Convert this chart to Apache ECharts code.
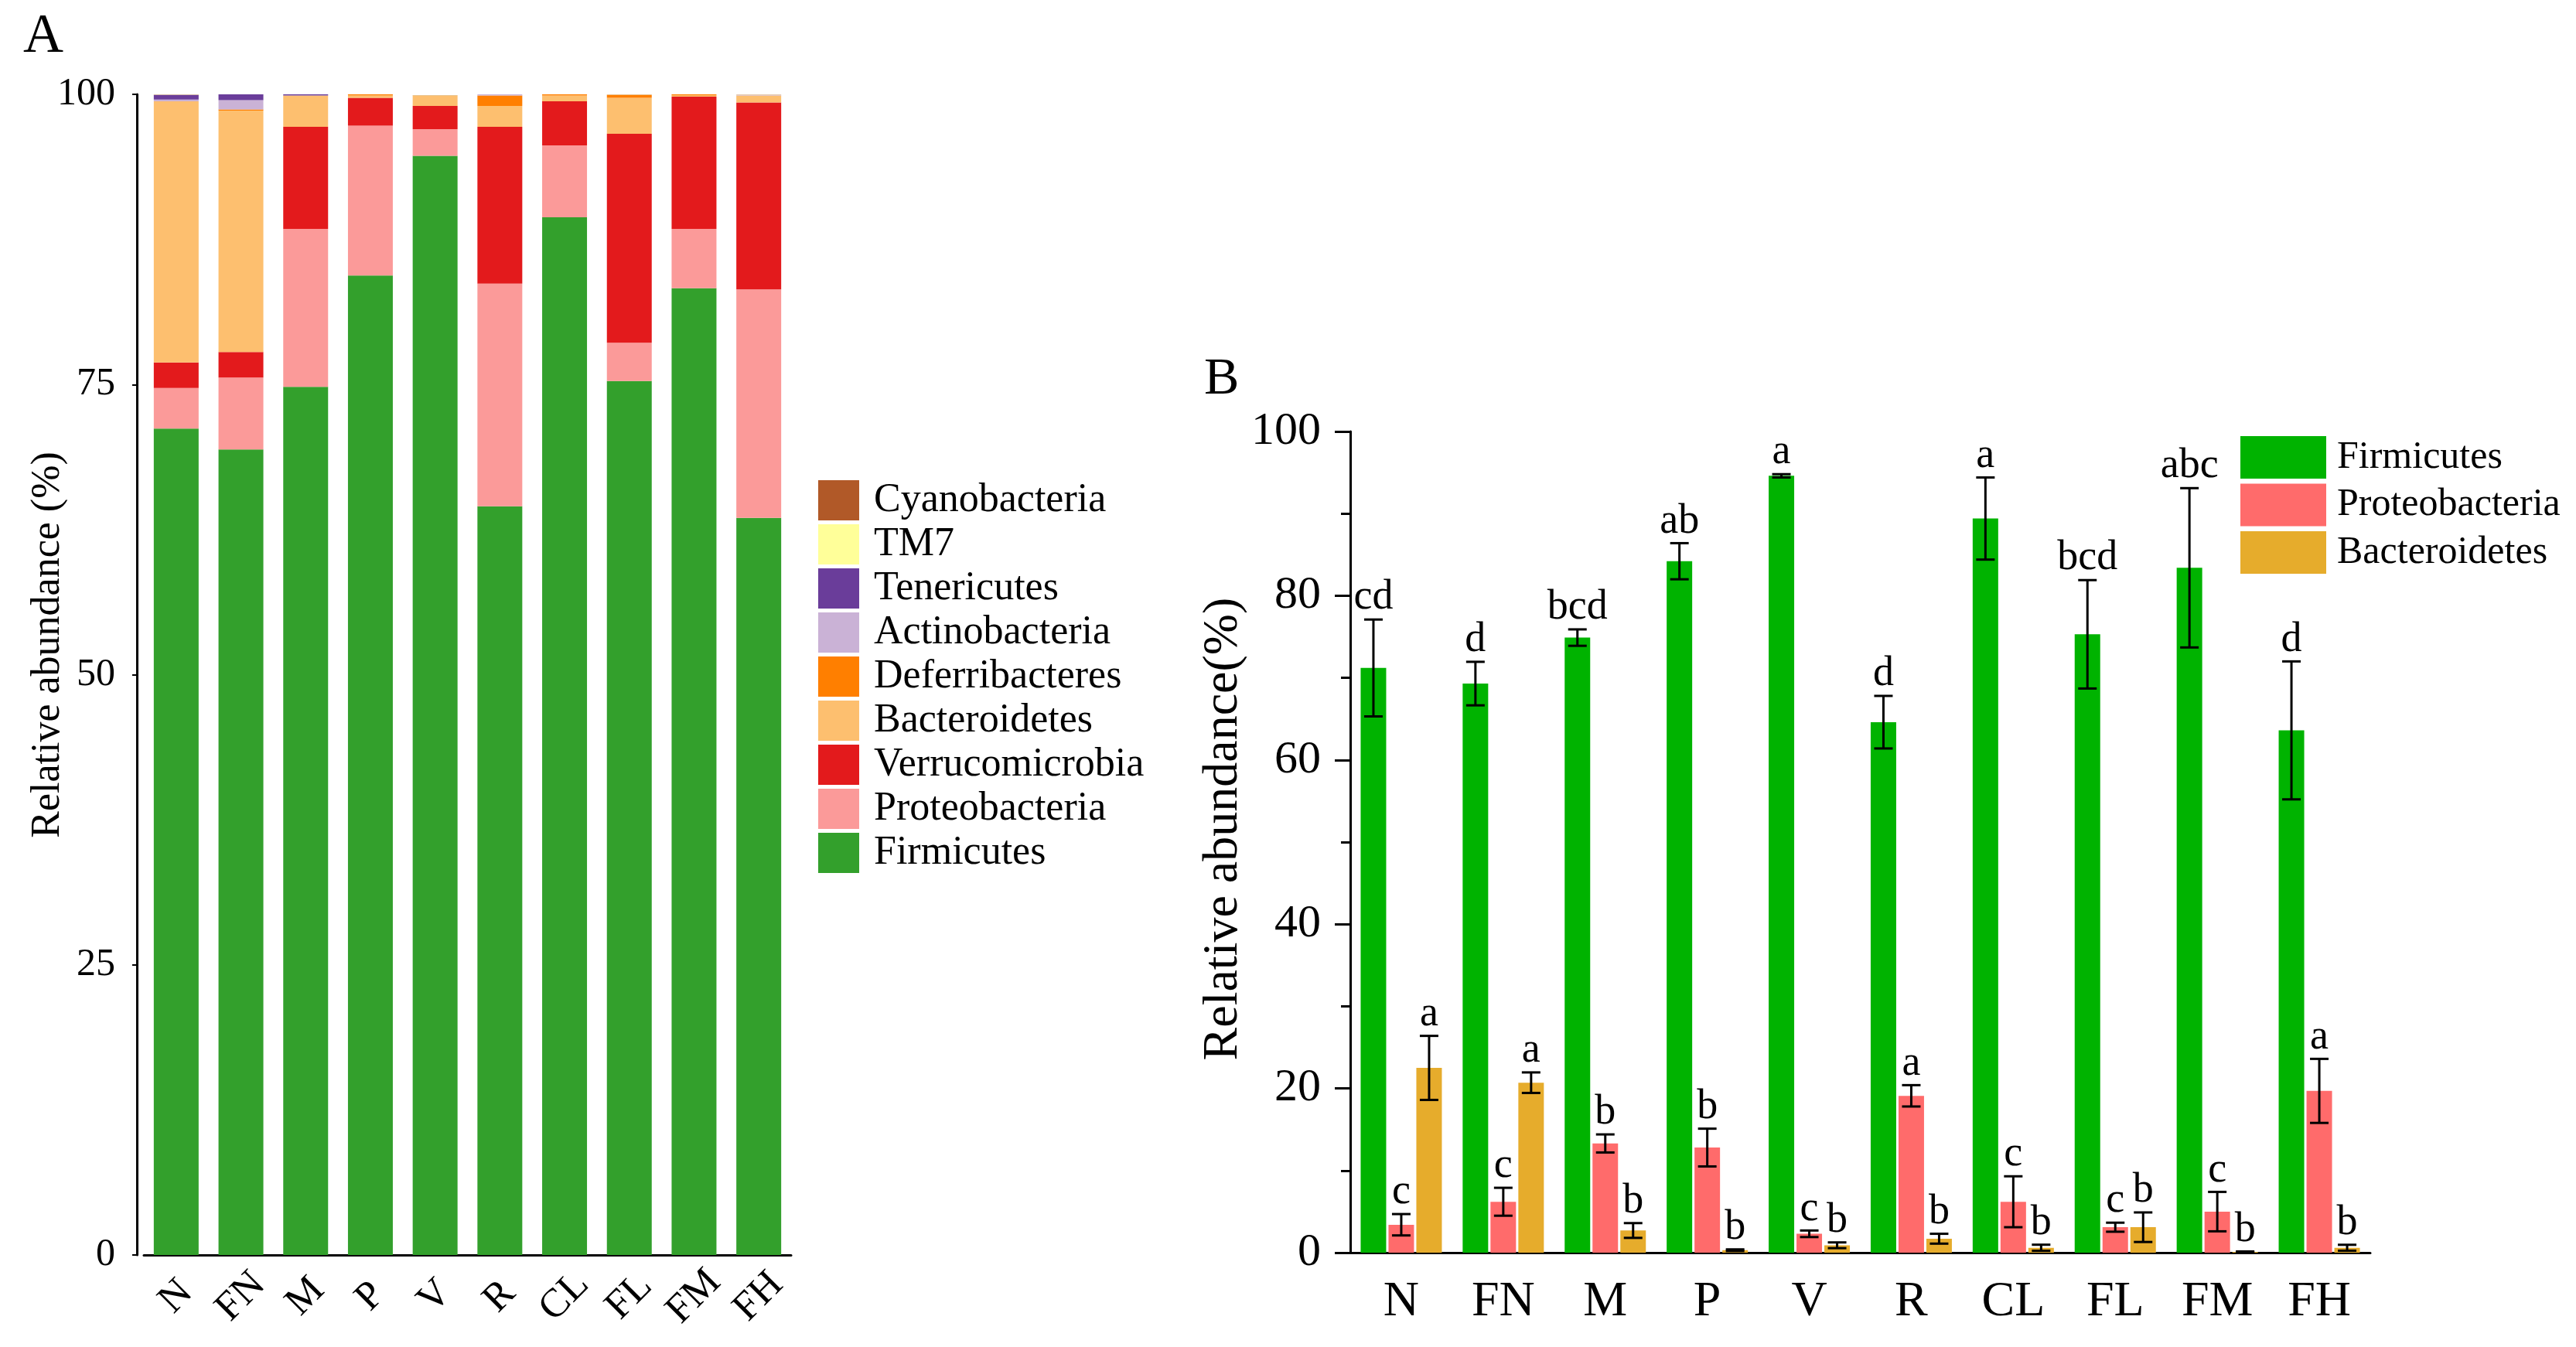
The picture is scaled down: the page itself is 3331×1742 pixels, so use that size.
<!DOCTYPE html>
<html>
<head>
<meta charset="utf-8">
<script src="https://cdn.jsdelivr.net/npm/echarts@6/dist/echarts.min.js"></script>
<style>
  html, body { margin: 0; padding: 0; background: #fff; }
  #chart { width: 3331px; height: 1742px; }
</style>
</head>
<body>
<div id="chart"></div>
<script>
// ---------- Panel A data (stacked relative abundance, %) ----------
const groups = ['N', 'FN', 'M', 'P', 'V', 'R', 'CL', 'FL', 'FM', 'FH'];
const yTicksA = [0, 25, 50, 75, 100];
const phylaA = ['Firmicutes', 'Proteobacteria', 'Verrucomicrobia', 'Bacteroidetes', 'Deferribacteres', 'Actinobacteria', 'Tenericutes', 'TM7', 'Cyanobacteria'];
const colorsA = ['#33A02C', '#FB9A99', '#E31A1C', '#FDBF6F', '#FF7F00', '#CAB2D6', '#6A3D9A', '#FFFF99', '#B15928'];
const firmicutesA      = [71.2, 69.4, 74.8, 84.4, 94.7, 64.5, 89.4, 75.3, 83.3, 63.5];
const proteobacteriaA  = [3.5, 6.2, 13.6, 12.9, 2.3, 19.2, 6.2, 3.3, 5.1, 19.7];
const verrucoA         = [2.2, 2.2, 8.8, 2.4, 2.0, 13.5, 3.8, 18.0, 11.4, 16.1];
const bacteroidetesA   = [22.5, 20.8, 2.7, 0.2, 0.9, 1.8, 0.5, 3.1, 0.1, 0.6];
const deferriA         = [0.0, 0.1, 0.0, 0.1, 0.0, 0.9, 0.1, 0.25, 0.1, 0.0];
const actinoA          = [0.15, 0.8, 0.0, 0.0, 0.0, 0.1, 0.0, 0.0, 0.0, 0.05];
const teneriA          = [0.4, 0.5, 0.1, 0.0, 0.0, 0.05, 0.0, 0.0, 0.0, 0.0];
const tm7A             = [0.02, 0.02, 0.02, 0.02, 0.02, 0.02, 0.02, 0.02, 0.02, 0.02];
const cyanoA           = [0.02, 0.02, 0.02, 0.02, 0.02, 0.02, 0.02, 0.02, 0.02, 0.02];
const valuesA = [firmicutesA, proteobacteriaA, verrucoA, bacteroidetesA, deferriA, actinoA, teneriA, tm7A, cyanoA];
const legendOrderA = ['Cyanobacteria', 'TM7', 'Tenericutes', 'Actinobacteria', 'Deferribacteres', 'Bacteroidetes', 'Verrucomicrobia', 'Proteobacteria', 'Firmicutes'];

// ---------- Panel B data (mean ± SD, %) ----------
const phylaB = ['Firmicutes', 'Proteobacteria', 'Bacteroidetes'];
const colorsB = ['#00B300', '#FF6B6B', '#E6AC2C'];
const firmMeanB = [71.2, 69.3, 74.9, 84.2, 94.6, 64.6, 89.4, 75.3, 83.4, 63.6];
const firmErrB  = [5.9, 2.65, 1.0, 2.2, 0.2, 3.2, 5.0, 6.6, 9.7, 8.4];
const protMeanB = [3.4, 6.2, 13.3, 12.8, 2.3, 19.1, 6.2, 3.1, 5.0, 19.7];
const protErrB  = [1.3, 1.7, 1.1, 2.3, 0.4, 1.3, 3.1, 0.55, 2.4, 3.9];
const bactMeanB = [22.5, 20.7, 2.7, 0.3, 0.9, 1.7, 0.6, 3.1, 0.1, 0.6];
const bactErrB  = [3.9, 1.25, 0.9, 0.1, 0.35, 0.6, 0.37, 1.8, 0.05, 0.36];
const firmLetters = ['cd', 'd', 'bcd', 'ab', 'a', 'd', 'a', 'bcd', 'abc', 'd'];
const protLetters = ['c', 'c', 'b', 'b', 'c', 'a', 'c', 'c', 'c', 'a'];
const bactLetters = ['a', 'a', 'b', 'b', 'b', 'b', 'b', 'b', 'b', 'b'];
const yTicksB = [0, 20, 40, 60, 80, 100];

const meansB = [firmMeanB, protMeanB, bactMeanB];
const errsB = [firmErrB, protErrB, bactErrB];
const lettersB = [firmLetters, protLetters, bactLetters];

// ---------- styling ----------
const FONT = '"Liberation Serif", "Times New Roman", serif';
const BAR_W_B = 33, BAR_GAP_B = 3;

const chart = echarts.init(document.getElementById('chart'));

const seriesA = phylaA.map((name, i) => ({
  name, type: 'bar', stack: 'A', xAxisIndex: 0, yAxisIndex: 0,
  barWidth: 58, data: valuesA[i],
  itemStyle: { color: colorsA[i] }, emphasis: { disabled: true }
}));

const seriesB = phylaB.map((name, i) => ({
  name: name + ' ', type: 'bar', xAxisIndex: 1, yAxisIndex: 1,
  barWidth: BAR_W_B, barGap: (BAR_GAP_B / BAR_W_B * 100) + '%',
  data: meansB[i], itemStyle: { color: colorsB[i] }, emphasis: { disabled: true }
}));

const errSeries = phylaB.map((name, k) => ({
  type: 'custom', xAxisIndex: 1, yAxisIndex: 1, z: 10, silent: true,
  encode: { x: 0, y: 1 },
  data: groups.map((g, j) => [j, meansB[k][j], errsB[k][j], k]),
  renderItem: function (params, api) {
    const cat = api.value(0), m = api.value(1), e = api.value(2);
    const idx = params.dataIndex;
    const off = (k - 1) * (BAR_W_B + BAR_GAP_B);
    const top = api.coord([cat, m + e]);
    const bot = api.coord([cat, m - e]);
    const x = top[0] + off;
    const cap = 12;
    const ls = { stroke: '#000', lineWidth: 3 };
    return {
      type: 'group',
      children: [
        { type: 'line', shape: { x1: x, y1: top[1], x2: x, y2: bot[1] }, style: ls },
        { type: 'line', shape: { x1: x - cap, y1: top[1], x2: x + cap, y2: top[1] }, style: ls },
        { type: 'line', shape: { x1: x - cap, y1: bot[1], x2: x + cap, y2: bot[1] }, style: ls },
        { type: 'text', style: { text: lettersB[k][idx], x: x, y: top[1] - 1, align: 'center', verticalAlign: 'bottom',
            fontSize: 54, fontFamily: FONT, fill: '#000' } }
      ]
    };
  }
}));

const option = {
  animation: false,
  backgroundColor: '#fff',
  graphic: [
    { type: 'text', left: 30, top: 12, style: { text: 'A', fontSize: 72, fontFamily: FONT, fill: '#000' } },
    { type: 'text', left: 1557, top: 457, style: { text: 'B', fontSize: 68, fontFamily: FONT, fill: '#000' } },
    { type: 'text', x: 62, y: 834, rotation: Math.PI / 2,
      style: { text: 'Relative abundance (%)', fontSize: 52, fontFamily: FONT, fill: '#000', align: 'center', verticalAlign: 'middle' } },
    { type: 'text', x: 1582, y: 1072, rotation: Math.PI / 2,
      style: { text: 'Relative abundance(%)', fontSize: 64, fontFamily: FONT, fill: '#000', align: 'center', verticalAlign: 'middle' } }
  ],
  legend: [
    {
      data: legendOrderA, orient: 'vertical', left: 1053, top: 616,
      itemWidth: 53, itemHeight: 52, itemGap: 5, icon: 'rect', selectedMode: false,
      textStyle: { fontSize: 52, fontFamily: FONT, color: '#000', padding: [0, 0, 0, 14] }
    },
    {
      data: phylaB.map(n => n + ' '), orient: 'vertical', left: 2892, top: 559,
      itemWidth: 111, itemHeight: 55, itemGap: 6.5, icon: 'rect', selectedMode: false,
      formatter: n => n.trim(),
      textStyle: { fontSize: 50, fontFamily: FONT, color: '#000', padding: [0, 0, 0, 9] }
    }
  ],
  grid: [
    { left: 186, top: 122, width: 837, bottom: 119, containLabel: false },
    { left: 1746, top: 558, width: 1319, bottom: 122, containLabel: false }
  ],
  xAxis: [
    {
      type: 'category', gridIndex: 0, data: groups,
      axisLine: { lineStyle: { color: '#000', width: 3 } },
      axisTick: { alignWithLabel: true, length: 7, lineStyle: { color: '#000', width: 2 } },
      axisLabel: { interval: 0, rotate: 45, align: 'center', verticalAlign: 'middle', margin: 54, fontSize: 52, fontFamily: FONT, color: '#000' }
    },
    {
      type: 'category', gridIndex: 1, data: groups,
      axisLine: { lineStyle: { color: '#000', width: 3 } },
      axisTick: { alignWithLabel: true, length: 20, lineStyle: { color: '#000', width: 3 } },
      axisLabel: { interval: 0, margin: 32, fontSize: 64, fontFamily: FONT, color: '#000' }
    }
  ],
  yAxis: [
    {
      type: 'value', gridIndex: 0, min: yTicksA[0], max: yTicksA[yTicksA.length - 1], interval: yTicksA[1] - yTicksA[0],
      offset: 9,
      axisLine: { show: true, lineStyle: { color: '#000', width: 3 } },
      axisTick: { show: true, length: 6, lineStyle: { color: '#000', width: 2 } },
      axisLabel: { margin: 28, fontSize: 50, fontFamily: FONT, color: '#000' },
      splitLine: { show: false }
    },
    {
      type: 'value', gridIndex: 1, min: yTicksB[0], max: yTicksB[yTicksB.length - 1], interval: yTicksB[1] - yTicksB[0],
      axisLine: { show: true, lineStyle: { color: '#000', width: 3 } },
      axisTick: { show: true, length: 20, lineStyle: { color: '#000', width: 3 } },
      minorTick: { show: true, splitNumber: 2, length: 12, lineStyle: { color: '#000', width: 3 } },
      axisLabel: { margin: 38, fontSize: 60, fontFamily: FONT, color: '#000' },
      splitLine: { show: false }
    }
  ],
  series: [...seriesA, ...seriesB, ...errSeries]
};

chart.setOption(option);
</script>
</body>
</html>
